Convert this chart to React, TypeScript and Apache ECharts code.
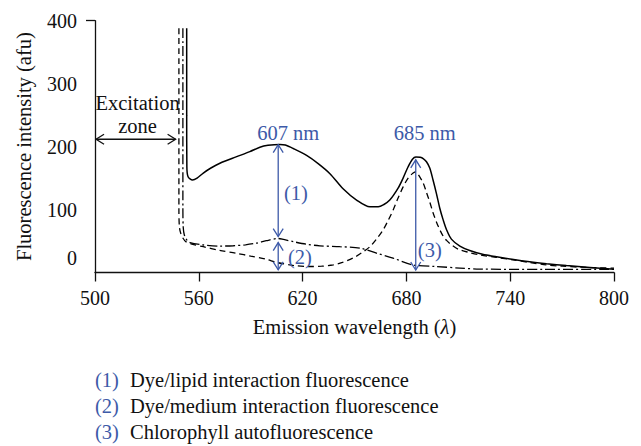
import React, { useEffect, useRef } from "react";
import * as echarts from "echarts";

const FONT = "Liberation Serif";
const BLUE = "#3d5aa8";
const FS = 20.5;

// Emission wavelength (nm) / intensity (afu) pairs
const solidCurve: number[][] = [
  [553, 388], [553, 250], [553.1, 168], [553.8, 152], [556.4, 147], [559, 150],
  [562.6, 158], [567, 166], [572.2, 173.6], [581.9, 184], [589.5, 192], [595.3, 199],
  [600, 202], [606.9, 203.5], [610, 202.5], [614.6, 197], [622.3, 186], [629, 173],
  [635.8, 157], [643.4, 133], [651.2, 115], [658.9, 104.3], [663.7, 104.3], [667, 108],
  [670.4, 115], [675.2, 134], [678.1, 150], [681, 168], [683.5, 180], [685.5, 183.5],
  [688, 183], [689.7, 181], [691.6, 176], [693.5, 166], [695.4, 147], [697.4, 125],
  [699.3, 102], [701.2, 84], [703.2, 68], [706, 53], [710.9, 42], [716.6, 35], [724, 29],
  [732.1, 25], [741, 21], [751.3, 17], [761, 14], [772.5, 11], [786, 8], [800, 5],
];

const dashedCurve: number[][] = [
  [548.5, 388], [548.5, 100], [548.8, 72], [549.6, 62], [551, 54], [552.5, 49], [556, 45],
  [562.6, 41], [572, 35], [581.9, 30.5], [590, 26], [599, 21], [605, 16], [615, 11],
  [624.2, 9.5], [631, 10], [637.7, 12], [643, 16], [649.2, 23], [654, 31], [658.9, 41],
  [662.7, 53], [666.6, 68], [669.5, 83], [672.3, 99], [675, 117], [678.1, 136], [681, 150],
  [683.9, 158], [685.5, 160], [686.8, 156], [689.7, 142], [691.5, 128], [693.5, 112],
  [695.4, 95], [697.4, 80], [699.3, 68], [701.2, 58], [703.2, 51], [706, 44], [710, 37],
  [716, 32], [722.4, 28], [732, 24], [741.7, 20], [751, 16], [760.9, 12], [770, 10],
  [780.2, 8.5], [790, 7.5], [800, 7],
];

const dashDotCurve: number[][] = [
  [550.8, 388], [550.8, 100], [551, 72], [551.6, 60], [553, 52], [554.9, 47.6], [562, 44],
  [572, 42], [580, 42.5], [587, 44], [593, 46.5], [599, 50.5], [605.9, 54], [609, 52.5],
  [614.6, 49], [622, 45], [630, 42.4], [641.5, 41], [653.1, 38.7], [662.7, 30.8],
  [672.3, 22.8], [683.9, 12], [697.4, 9.5], [710.9, 7], [722.4, 5.4], [760, 5], [800, 5],
];

// vertical double arrows: [x, yTop, yBottom]
const blueArrows: number[][] = [
  [605.9, 203, 57],
  [605.9, 47.6, 4.3],
  [685.4, 179, 4],
];

// horizontal double arrow: [xLeft, xRight, y]
const excitationArrow: number[][] = [[500.6, 546.6, 211.7]];

const annotTexts = ["607 nm", "685 nm", "(1)", "(2)", "(3)"];
const annotX = [611.7, 690.6, 616.1, 618.4, 693.5];
const annotY = [222, 222, 126, 25.4, 35];

const excitationTexts = ["Excitation", "zone"];
const excitationX = [524.6, 524.6];
const excitationY = [269, 233];

const xTicks = { min: 500, max: 800, interval: 60 };
const yTicks = { min: 0, max: 400, interval: 100 };

const legendNums = ["(1)", "(2)", "(3)"];
const legendLabels = [
  "Dye/lipid interaction fluorescence",
  "Dye/medium interaction fluorescence",
  "Chlorophyll autofluorescence",
];

export default function App() {
  const ref = useRef<HTMLDivElement>(null);

  useEffect(() => {
    document.body.style.margin = "0";
    if (!ref.current) return;
    const chart = echarts.init(ref.current, null, { renderer: "svg" });

    const arrowRender = (color: string, horizontal: boolean) => (params: any, api: any) => {
      const a = api.value(0), b = api.value(1), c = api.value(2);
      let p1: number[], p2: number[];
      const h = 5, l = 8;
      let heads: number[][][];
      if (horizontal) {
        p1 = api.coord([a, c]);
        p2 = api.coord([b, c]);
        heads = [
          [[p1[0] + l, p1[1] - h], [p1[0], p1[1]], [p1[0] + l, p1[1] + h]],
          [[p2[0] - l, p2[1] - h], [p2[0], p2[1]], [p2[0] - l, p2[1] + h]],
        ];
      } else {
        p1 = api.coord([a, b]);
        p2 = api.coord([a, c]);
        heads = [
          [[p1[0] - h, p1[1] + l], [p1[0], p1[1]], [p1[0] + h, p1[1] + l]],
          [[p2[0] - h, p2[1] - l], [p2[0], p2[1]], [p2[0] + h, p2[1] - l]],
        ];
      }
      return {
        type: "group",
        children: [
          {
            type: "line",
            shape: { x1: p1[0], y1: p1[1], x2: p2[0], y2: p2[1] },
            style: { stroke: color, lineWidth: 1.3 },
          },
          ...heads.map((pts) => ({
            type: "polyline",
            shape: { points: pts },
            style: { stroke: color, lineWidth: 1.3, fill: null },
          })),
        ],
      };
    };

    const textRender = (texts: string[], color: string) => (params: any, api: any) => {
      const p = api.coord([api.value(0), api.value(1)]);
      return {
        type: "text",
        x: p[0],
        y: p[1],
        style: {
          text: texts[params.dataIndex],
          fill: color,
          fontFamily: FONT,
          fontSize: FS,
          align: "center",
          verticalAlign: "middle",
        },
      };
    };

    chart.setOption({
      animation: false,
      grid: { left: 95, right: 27, top: 20.7, bottom: 173.5 },
      xAxis: {
        type: "value",
        min: xTicks.min,
        max: xTicks.max,
        interval: xTicks.interval,
        name: "Emission wavelength ({i|λ})",
        nameLocation: "middle",
        nameGap: 44,
        nameTextStyle: {
          color: "#111",
          fontFamily: FONT,
          fontSize: FS,
          rich: { i: { fontStyle: "italic", fontFamily: FONT, fontSize: FS, color: "#111" } },
        },
        axisLine: { lineStyle: { color: "#111", width: 1.3 } },
        axisTick: { length: 9, lineStyle: { color: "#111", width: 1.3 } },
        axisLabel: { color: "#111", fontFamily: FONT, fontSize: 20, margin: 15 },
        splitLine: { show: false },
      },
      yAxis: {
        type: "value",
        min: yTicks.min,
        max: yTicks.max,
        interval: yTicks.interval,
        name: "Fluorescence intensity (afu)",
        nameLocation: "middle",
        nameGap: 61,
        nameTextStyle: { color: "#111", fontFamily: FONT, fontSize: FS },
        axisLine: { show: true, lineStyle: { color: "#111", width: 1.3 } },
        axisTick: { show: true, length: 9, customValues: [400], lineStyle: { color: "#111", width: 1.3 } },
        axisLabel: {
          color: "#111",
          fontFamily: FONT,
          fontSize: 20,
          margin: 18,
          formatter: (v: number) => (v === 0 ? "{z|0}" : String(v)),
          rich: { z: { padding: [0, 0, 29, 0], fontFamily: FONT, fontSize: 20, color: "#111" } },
        },
        splitLine: { show: false },
      },
      series: [
        {
          type: "line",
          data: solidCurve,
          showSymbol: false,
          smooth: 0.3,
          lineStyle: { color: "#000", width: 1.5 },
          z: 3,
        },
        {
          type: "line",
          data: dashedCurve,
          showSymbol: false,
          smooth: 0.3,
          lineStyle: { color: "#000", width: 1.3, type: [6, 4] },
          z: 3,
        },
        {
          type: "line",
          data: dashDotCurve,
          showSymbol: false,
          smooth: 0.3,
          lineStyle: { color: "#000", width: 1.3, type: [10, 3, 2, 3] },
          z: 3,
        },
        {
          type: "custom",
          coordinateSystem: "cartesian2d",
          data: blueArrows,
          encode: { x: 0, y: [1, 2] },
          renderItem: arrowRender(BLUE, false),
          clip: false,
          z: 4,
        },
        {
          type: "custom",
          coordinateSystem: "cartesian2d",
          data: excitationArrow,
          encode: { x: [0, 1], y: 2 },
          renderItem: arrowRender("#111", true),
          clip: false,
          z: 4,
        },
        {
          type: "custom",
          coordinateSystem: "cartesian2d",
          data: annotX.map((x, i) => [x, annotY[i]]),
          encode: { x: 0, y: 1 },
          renderItem: textRender(annotTexts, BLUE),
          clip: false,
          z: 5,
        },
        {
          type: "custom",
          coordinateSystem: "cartesian2d",
          data: excitationX.map((x, i) => [x, excitationY[i]]),
          encode: { x: 0, y: 1 },
          renderItem: textRender(excitationTexts, "#111"),
          clip: false,
          z: 5,
        },
      ],
      graphic: legendNums.flatMap((n, i) => [
        {
          type: "text",
          left: 95,
          top: 369 + i * 26,
          style: { text: n, fill: BLUE, fontFamily: FONT, fontSize: FS },
        },
        {
          type: "text",
          left: 130,
          top: 369 + i * 26,
          style: { text: legendLabels[i], fill: "#111", fontFamily: FONT, fontSize: FS },
        },
      ]),
    });

    return () => chart.dispose();
  }, []);

  return <div ref={ref} style={{ width: 641, height: 446 }} />;
}
